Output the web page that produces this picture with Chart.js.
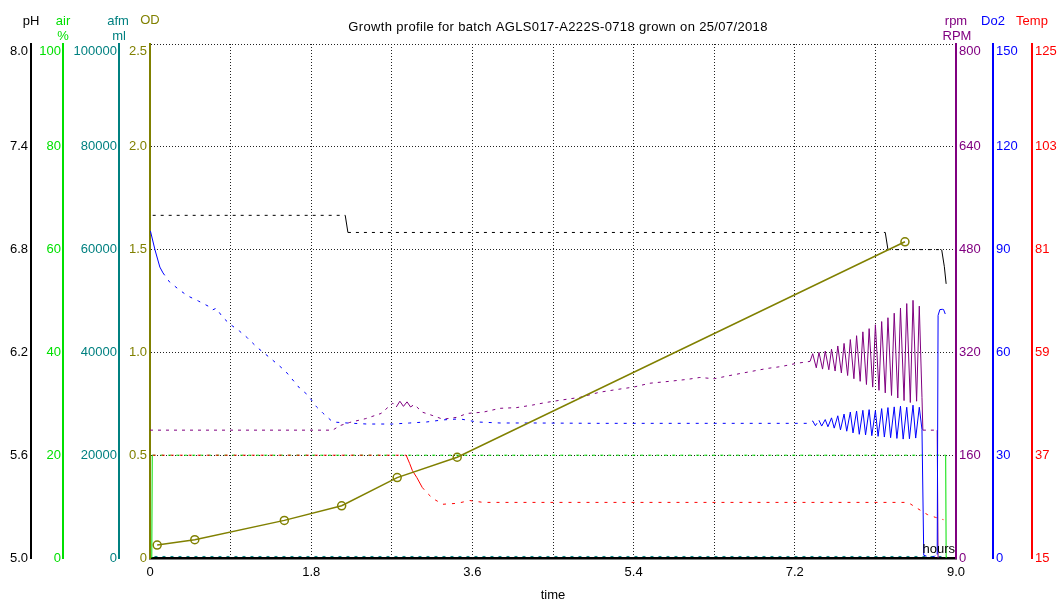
<!DOCTYPE html>
<html>
<head>
<meta charset="utf-8">
<title>Growth profile</title>
<script src="https://cdn.jsdelivr.net/npm/chart.js@4/dist/chart.umd.min.js"></script>
<style>
  html, body { margin: 0; padding: 0; background: #ffffff; overflow: hidden; }
  canvas { display: block; }
</style>
</head>
<body>
<canvas id="growth" width="1057" height="601"></canvas>
<script>
// ---- tick labels -------------------------------------------------------
const xTickLabels    = ['0', '1.8', '3.6', '5.4', '7.2', '9.0'];
const phTickLabels   = ['5.0', '5.6', '6.2', '6.8', '7.4', '8.0'];
const airTickLabels  = ['0', '20', '40', '60', '80', '100'];
const afmTickLabels  = ['0', '20000', '40000', '60000', '80000', '100000'];
const odTickLabels   = ['0', '0.5', '1.0', '1.5', '2.0', '2.5'];
const rpmTickLabels  = ['0', '160', '320', '480', '640', '800'];
const do2TickLabels  = ['0', '30', '60', '90', '120', '150'];
const tempTickLabels = ['15', '37', '59', '81', '103', '125'];

// ---- measured series (time in hours) -------------------------------------
const odTime   = [0.08, 0.50, 1.50, 2.14, 2.76, 3.43, 8.43];
const odValues = [0.063, 0.089, 0.183, 0.254, 0.391, 0.490, 1.538];

const phTime   = [0.03, 2.18, 2.21, 8.21, 8.24, 8.84, 8.87, 8.89];
const phValues = [7.0, 7.0, 6.9, 6.9, 6.8, 6.8, 6.7, 6.6];

const airTime   = [0.02, 0.025, 8.885, 8.89];
const airValues = [0, 20, 20, 0];

const afmTime   = [0.05, 8.9];
const afmValues = [300, 300];

const tempTime   = [0.03, 2.86, 2.90, 2.93, 2.98, 3.04, 3.09, 3.16, 3.27, 3.43, 3.57, 3.72,
                    8.43, 8.48, 8.57, 8.68, 8.77, 8.86];
const tempValues = [37, 37, 35.2, 33.7, 32.2, 30.1, 29.0, 27.7, 26.5, 26.7, 27.3, 26.9,
                    26.9, 26.7, 25.6, 24.3, 23.7, 23.2];

const do2Time = [0.005, 0.056, 0.11, 0.145, 0.22, 0.33, 0.42, 0.54, 0.65, 0.70, 0.74, 0.81,
                 0.89, 1.00, 1.09, 1.19, 1.34, 1.51, 1.67, 1.76, 1.86, 1.93, 2.04, 2.20,
                 2.42, 2.71, 2.90, 3.09, 3.27, 3.46, 3.65, 3.91, 4.27, 5.02, 6.14, 7.37,
                 7.40, 7.43, 7.47, 7.50, 7.54, 7.57, 7.61, 7.64, 7.68, 7.71, 7.75, 7.78,
                 7.82, 7.85, 7.89, 7.92, 7.96, 7.99, 8.03, 8.06, 8.10, 8.13, 8.17, 8.20,
                 8.24, 8.27, 8.31, 8.34, 8.38, 8.41, 8.45, 8.48, 8.52, 8.55, 8.59, 8.62,
                 8.64, 8.70, 8.76, 8.79, 8.80, 8.82, 8.86, 8.88];
const do2Values = [95.4, 89.9, 84.9, 83.2, 80.5, 78.2, 76.5, 75.0, 73.5, 72.4, 72.9, 70.3,
                   68.3, 66.2, 64.2, 61.6, 58.4, 54.6, 49.6, 47.6, 44.1, 42.3, 39.7, 39.4,
                   39.1, 39.1, 39.4, 39.7, 40.3, 40.6, 39.7, 39.4, 39.4, 39.3, 39.3, 39.3,
                   40.0, 38.6, 40.2, 38.5, 40.4, 38.3, 40.9, 37.9, 41.5, 37.4, 42.0, 37.0,
                   42.6, 36.5, 42.9, 36.1, 43.1, 35.9, 43.3, 35.7, 43.0, 35.5, 43.6, 35.3,
                   43.9, 35.1, 44.1, 34.9, 44.3, 34.7, 44.0, 34.8, 44.6, 35.0, 44.0, 37.5,
                   0.8, 0.3, 0.5, 1.0, 70.8, 72.5, 72.6, 71.2];

const rpmTime = [0.0, 2.04, 2.12, 2.23, 2.41, 2.58, 2.71, 2.75, 2.79, 2.83, 2.87, 2.91,
                 2.95, 3.04, 3.15, 3.27, 3.43, 3.54, 3.72, 3.91, 4.09, 4.27, 4.42, 4.60,
                 4.80, 5.02, 5.20, 5.40, 5.58, 5.80, 6.00, 6.14, 6.30, 6.51, 6.70, 6.89,
                 7.05, 7.22, 7.37,
                 7.40, 7.44, 7.47, 7.51, 7.54, 7.58, 7.61, 7.65, 7.68, 7.72, 7.75, 7.79,
                 7.82, 7.86, 7.89, 7.93, 7.96, 8.00, 8.03, 8.07, 8.10, 8.14, 8.17, 8.21,
                 8.24, 8.28, 8.31, 8.35, 8.38, 8.42, 8.45, 8.49, 8.52, 8.56, 8.59, 8.62,
                 8.63, 8.79, 8.80];
const rpmValues = [199, 199, 206, 211, 217, 225, 241, 235, 244, 236, 243, 235,
                   239, 227, 222, 216, 219, 225, 227, 233, 234, 238, 242, 246,
                   250, 258, 262, 266, 272, 275, 278, 281, 279, 285, 290, 295,
                   298, 303, 306,
                   318, 296, 320, 294, 322, 293, 325, 291, 330, 288, 334, 284,
                   340, 279, 346, 275, 352, 270, 357, 266, 363, 261, 368, 257,
                   374, 253, 381, 249, 389, 245, 396, 242, 401, 244, 392, 250,
                   199, 199, 0];

// ---- styling -------------------------------------------------------------
const FONT = "'Liberation Sans', Arial, Helvetica, sans-serif";
Chart.defaults.font.family = FONT;
Chart.defaults.font.size = 13;
Chart.defaults.color = '#000000';

const COLORS = {
  ph: '#000000', air: '#00e000', afm: '#008080', od: '#808000',
  rpm: '#800080', do2: '#0000ff', temp: '#ff0000'
};

function pairs(times, values) {
  return times.map((t, i) => ({ x: t, y: values[i] }));
}

// logged traces are drawn dashed where they drift slowly and solid where they jump
function traceDash(pattern, steep) {
  return ctx => {
    const dx = Math.abs(ctx.p1.x - ctx.p0.x);
    const dy = Math.abs(ctx.p1.y - ctx.p0.y);
    return dy > steep * dx ? [] : pattern;
  };
}

function trace(label, times, values, axis, color, pattern, steep) {
  return {
    label, data: pairs(times, values), yAxisID: axis,
    borderColor: color, borderWidth: 1, pointRadius: 0, tension: 0,
    segment: { borderDash: traceDash(pattern, steep) }
  };
}

// the top label of each value axis sits just under the frame edge
function axisLabel(labels) {
  return (v, i) => (i === labels.length - 1 ? ['', labels[i]] : labels[i]);
}

function valueAxis(position, weight, min, max, step, labels, color, width, pad) {
  return {
    type: 'linear', position, weight, min, max,
    ticks: { stepSize: step, color, padding: pad, autoSkip: false,
             callback: axisLabel(labels) },
    grid: { display: false, drawTicks: false },
    border: { display: true, color, width: 2 },
    afterFit: scale => { scale.width = width; }
  };
}

const scales = {
  x: {
    type: 'linear', position: 'bottom', min: 0, max: 9,
    ticks: { stepSize: 0.9, autoSkip: false, maxRotation: 0, padding: 7, color: '#000',
             callback: (v, i) => (i % 2 === 0 ? xTickLabels[i / 2] : '') },
    grid: { display: true, color: '#222222', lineWidth: 1, drawTicks: false },
    border: { display: true, color: '#000000', width: 2.5, dash: [1, 2] },
    title: { display: true, text: 'time', color: '#000', padding: { top: 0, bottom: -2 } },
    afterFit: scale => { scale.height = 43; }
  },
  yPH:   valueAxis('left', 3, 5, 8, 0.6, phTickLabels, COLORS.ph, 31, 3),
  yAir:  valueAxis('left', 2, 0, 100, 20, airTickLabels, COLORS.air, 32, 2),
  yAfm:  valueAxis('left', 1, 0, 100000, 20000, afmTickLabels, COLORS.afm, 56, 2),
  yOD:   valueAxis('left', 0, 0, 2.5, 0.5, odTickLabels, COLORS.od, 31, 3),
  yRPM:  valueAxis('right', 0, 0, 800, 160, rpmTickLabels, COLORS.rpm, 37, 3),
  yDo2:  valueAxis('right', 1, 0, 150, 30, do2TickLabels, COLORS.do2, 39, 3),
  yTemp: valueAxis('right', 2, 15, 125, 22, tempTickLabels, COLORS.temp, 25, 3)
};
// the OD axis carries the horizontal dotted grid
scales.yOD.grid = { display: true, color: '#222222', lineWidth: 1, drawTicks: false };
scales.yOD.border.dash = [1, 2];

const headerTexts = [
  ['pH', 31, 21, COLORS.ph], ['air', 63, 21, COLORS.air], ['%', 63, 36, COLORS.air],
  ['afm', 118, 21, COLORS.afm], ['ml', 119, 36, COLORS.afm], ['OD', 150, 20, COLORS.od],
  ['rpm', 956, 21, COLORS.rpm], ['RPM', 957, 36, COLORS.rpm],
  ['Do2', 993, 21, COLORS.do2], ['Temp', 1032, 21, COLORS.temp]
];
const chartTitle = 'Growth profile for batch AGLS017-A222S-0718 grown on 25/07/2018';

const headerPlugin = {
  id: 'headers',
  afterDraw(chart) {
    const ctx = chart.ctx;
    ctx.save();
    ctx.font = '13px ' + FONT;
    ctx.textBaseline = 'middle';
    ctx.textAlign = 'center';
    ctx.fillStyle = '#000';
    if ('letterSpacing' in ctx) ctx.letterSpacing = '0.35px';
    ctx.fillText(chartTitle, 558, 27);
    if ('letterSpacing' in ctx) ctx.letterSpacing = '0px';
    headerTexts.forEach(([text, x, y, color]) => {
      ctx.fillStyle = color;
      ctx.fillText(text, x, y);
    });
    ctx.fillStyle = '#000';
    ctx.textAlign = 'right';
    ctx.fillText('hours', chart.chartArea.right - 1, chart.chartArea.bottom - 9);
    ctx.restore();
  }
};

new Chart(document.getElementById('growth'), {
  type: 'line',
  data: {
    datasets: [
      {
        label: 'OD', data: pairs(odTime, odValues), yAxisID: 'yOD',
        borderColor: COLORS.od, borderWidth: 1.5, tension: 0,
        pointRadius: 4, pointBorderWidth: 1.5,
        pointBorderColor: COLORS.od, pointBackgroundColor: 'rgba(0,0,0,0)'
      },
      trace('pH', phTime, phValues, 'yPH', COLORS.ph, [3, 5], 1.2),
      trace('Do2', do2Time, do2Values, 'yDo2', COLORS.do2, [3, 6], 1.6),
      trace('rpm', rpmTime, rpmValues, 'yRPM', COLORS.rpm, [3, 5], 1.2),
      trace('Temp', tempTime, tempValues, 'yTemp', COLORS.temp, [3, 6], 1.2),
      trace('air', airTime, airValues, 'yAir', COLORS.air, [3, 5], 1.2),
      trace('afm', afmTime, afmValues, 'yAfm', COLORS.afm, [3, 5], 1.2)
    ]
  },
  options: {
    responsive: false,
    animation: false,
    devicePixelRatio: 1,
    layout: { padding: { top: 44, left: 0, right: 0, bottom: 0 } },
    plugins: { legend: { display: false }, tooltip: { enabled: false }, title: { display: false } },
    scales
  },
  plugins: [headerPlugin]
});
</script>
</body>
</html>
